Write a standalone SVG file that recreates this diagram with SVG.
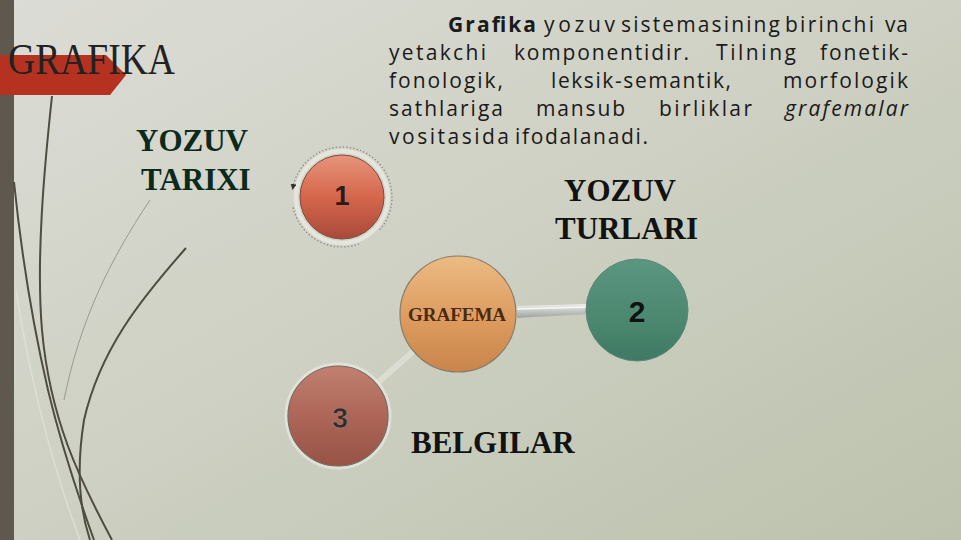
<svg xmlns="http://www.w3.org/2000/svg" width="961" height="540" viewBox="0 0 961 540">
<defs>
<linearGradient id="bg" x1="0" y1="0" x2="1" y2="1">
<stop offset="0" stop-color="#dcdcd6"/>
<stop offset="0.5" stop-color="#cdd0c2"/>
<stop offset="1" stop-color="#bcc2ad"/>
</linearGradient>
<linearGradient id="g1" x1="0" y1="0" x2="0" y2="1">
<stop offset="0" stop-color="#e6957c"/>
<stop offset="0.5" stop-color="#d5664c"/>
<stop offset="1" stop-color="#a9493a"/>
</linearGradient>
<linearGradient id="gg" x1="0" y1="0" x2="0" y2="1">
<stop offset="0" stop-color="#ebbb84"/>
<stop offset="0.55" stop-color="#dd9b5e"/>
<stop offset="1" stop-color="#c9854c"/>
</linearGradient>
<linearGradient id="g2" x1="0" y1="0" x2="0" y2="1">
<stop offset="0" stop-color="#5a9680"/>
<stop offset="0.6" stop-color="#4c8870"/>
<stop offset="1" stop-color="#3f7863"/>
</linearGradient>
<linearGradient id="g3" x1="0" y1="0" x2="0" y2="1">
<stop offset="0" stop-color="#c08070"/>
<stop offset="0.5" stop-color="#ad6658"/>
<stop offset="1" stop-color="#965346"/>
</linearGradient>
<linearGradient id="bar" x1="0" y1="0" x2="0" y2="1">
<stop offset="0" stop-color="#eef0ee"/>
<stop offset="0.5" stop-color="#c4c8c4"/>
<stop offset="1" stop-color="#9ea39e"/>
</linearGradient>
<marker id="ah" markerWidth="6" markerHeight="6" refX="3" refY="3" orient="auto" markerUnits="userSpaceOnUse">
<path d="M0,0 L6,3 L0,6 z" fill="#333"/>
</marker>
</defs>
<style>
.para{font-family:"Open Sans","Noto Sans",sans-serif;font-size:21px;fill:#1a1a1a}
.lbl{font-family:"Liberation Serif","Times New Roman",serif;font-weight:bold;font-size:31px;fill:#121212}
.num{font-family:"Liberation Sans",Arial,sans-serif;font-weight:bold;text-anchor:middle}
.curve{fill:none;stroke:#4f4c40;stroke-width:2}
.dot{fill:none;stroke:#8a8a86;stroke-width:1.2;stroke-dasharray:1.5 2}
</style>
<rect width="961" height="540" fill="url(#bg)"/>
<rect x="0" y="0" width="14" height="540" fill="#5f584f"/>
<path d="M0,55 L106,55 L126,75 L110,95 L0,95 z" fill="#b4321f"/>
<text x="8" y="74" font-family="Liberation Serif,'Times New Roman',serif" font-size="44" fill="#222" textLength="167" lengthAdjust="spacingAndGlyphs">GRAFIKA</text>
<g id="decor-curves">
<path class="curve" d="M52,96 C44,170 36,260 42,330 C50,420 80,480 112,540"/>
<path class="curve" d="M14,182 C22,260 34,330 48,390 C60,440 76,490 94,540"/>
<path class="curve" d="M186,248 C140,300 100,350 84,420 C76,470 80,510 90,540"/>
<path d="M150,200 C110,260 80,320 64,400" fill="none" stroke="#9a9a90" stroke-width="1"/>
<path d="M16,290 C30,380 50,460 80,540" fill="none" stroke="#e4e6dc" stroke-width="1.5" opacity="0.7"/>
</g>
<g id="paragraph" class="para">
<text x="448" y="32" font-weight="bold" textLength="88" lengthAdjust="spacing">Grafika</text>
<text x="544" y="32" textLength="71" lengthAdjust="spacing">yozuv</text>
<text x="621" y="32" textLength="159" lengthAdjust="spacing">sistemasining</text>
<text x="785" y="32" textLength="89" lengthAdjust="spacing">birinchi</text>
<text x="885" y="32" textLength="23" lengthAdjust="spacing">va</text>
<text x="389" y="60" textLength="97" lengthAdjust="spacing">yetakchi</text>
<text x="514" y="60" textLength="175" lengthAdjust="spacing">komponentidir.</text>
<text x="716" y="60" textLength="80" lengthAdjust="spacing">Tilning</text>
<text x="820" y="60" textLength="88" lengthAdjust="spacing">fonetik-</text>
<text x="389" y="88" textLength="114" lengthAdjust="spacing">fonologik,</text>
<text x="551" y="88" textLength="180" lengthAdjust="spacing">leksik-semantik,</text>
<text x="783" y="88" textLength="125" lengthAdjust="spacing">morfologik</text>
<text x="389" y="116" textLength="114" lengthAdjust="spacing">sathlariga</text>
<text x="536" y="116" textLength="89" lengthAdjust="spacing">mansub</text>
<text x="659" y="116" textLength="93" lengthAdjust="spacing">birliklar</text>
<text x="785" y="116" font-style="italic" textLength="123" lengthAdjust="spacing">grafemalar</text>
<text x="389" y="144" textLength="120" lengthAdjust="spacing">vositasida</text>
<text x="515" y="144" textLength="133" lengthAdjust="spacing">ifodalanadi.</text>
</g>
<g id="connectors">
<path d="M517,306 L588,304 L588,314 L517,318 z" fill="url(#bar)"/>
<line x1="517" y1="309" x2="588" y2="307" stroke="#ffffff" stroke-width="1.5" opacity="0.8"/>
<line x1="418" y1="347" x2="374" y2="386" stroke="#e6e8e0" stroke-width="6" stroke-linecap="round" opacity="0.6"/>
<circle cx="418" cy="347" r="3.5" fill="#f4f4f0"/>
</g>
<g id="node-1">
<circle cx="342" cy="197" r="46" fill="none" stroke="#ecece6" stroke-width="4" opacity="0.7"/>
<path class="dot" d="M379.7,229.8 A50,50 0 1 0 293,187" marker-end="url(#ah)"/>
<path class="dot" d="M293.1,207.4 A50,50 0 0 0 359.1,244"/>
<circle cx="342" cy="197" r="42" fill="url(#g1)" stroke="#7e4a3c" stroke-width="1"/>
<text class="num" x="342" y="205" font-size="27" fill="#2a1c16">1</text>
</g>
<g id="node-grafema">
<circle cx="458" cy="314" r="58" fill="url(#gg)" stroke="#8a7b6a" stroke-width="1.2"/>
<text x="457" y="321" text-anchor="middle" font-family="Liberation Serif,'Times New Roman',serif" font-weight="bold" font-size="19" fill="#4a2a12">GRAFEMA</text>
</g>
<g id="node-2">
<circle cx="637" cy="310" r="51" fill="url(#g2)" stroke="#5e8878" stroke-width="1"/>
<text class="num" x="637" y="322" font-size="30" fill="#111">2</text>
</g>
<g id="node-3">
<circle cx="338" cy="416" r="52" fill="none" stroke="#e8e8e2" stroke-width="3" opacity="0.7"/>
<circle cx="338" cy="416" r="50" fill="url(#g3)" stroke="#7c6a62" stroke-width="1.2"/>
<text class="num" x="340" y="428" font-size="29" fill="#3a2a26" stroke="#9a8a84" stroke-width="0.6">3</text>
</g>
<text class="lbl" x="136" y="151" style="fill:#0b2a1c">YOZUV</text>
<text class="lbl" x="141" y="190" style="fill:#0b2a1c">TARIXI</text>
<text class="lbl" x="564" y="201">YOZUV</text>
<text class="lbl" x="555" y="239">TURLARI</text>
<text class="lbl" x="411" y="453">BELGILAR</text>
</svg>
